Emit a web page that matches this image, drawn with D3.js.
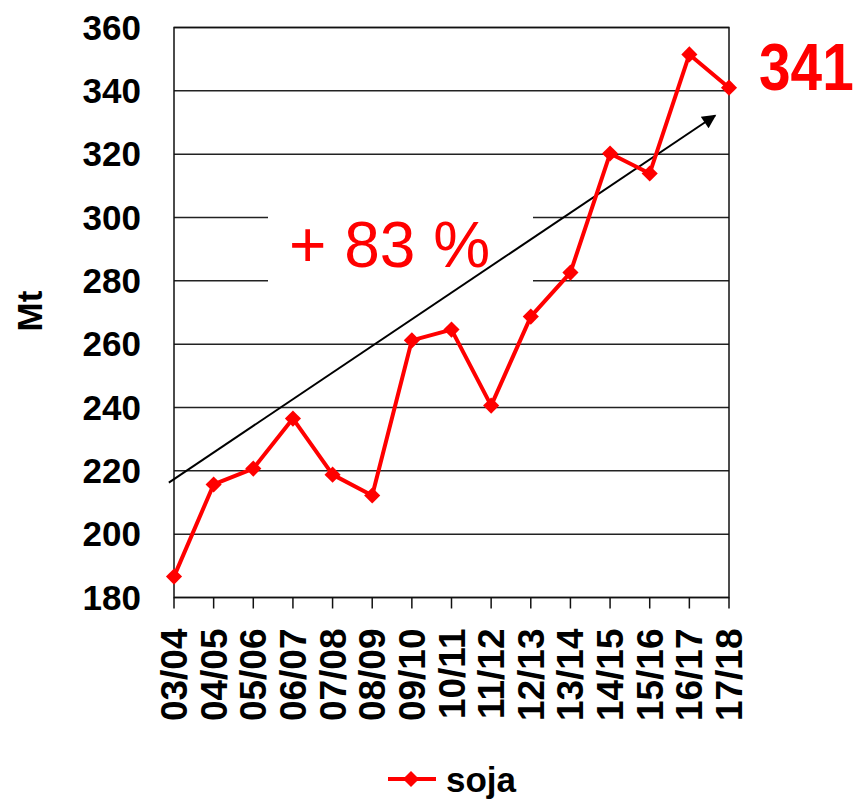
<!DOCTYPE html>
<html>
<head>
<meta charset="utf-8">
<script src="https://cdn.jsdelivr.net/npm/d3@7"></script>
<style>
	body{margin:0;background:#fff;}
	svg{display:block;font-family:"Liberation Sans",Arial,sans-serif;}
</style>
</head>
<body>
<svg id="chart" width="859" height="799"></svg>
<script>
const seasons = ['03/04','04/05','05/06','06/07','07/08','08/09','09/10','10/11','11/12','12/13','13/14','14/15','15/16','16/17','17/18'];
const soja = [186.6,215.7,220.7,236.5,218.8,212.2,261.2,264.6,240.6,268.7,282.6,320.2,313.9,351.5,341];
const yTicks = [180,200,220,240,260,280,300,320,340,360];
// trend arrow, in season index / Mt
const trendFrom = [-0.13,216.3];
const trendTo = [13.65,332.2];
const growthLabel = '+ 83 %';
const lastLabel = '341';

const svg = d3.select('#chart');
const plotL = 174, plotR = 729, plotT = 27.5, plotB = 597.5;

const x = d3.scalePoint().domain(seasons).range([plotL,plotR]);
const xi = d3.scaleLinear().domain([0,seasons.length-1]).range([plotL,plotR]);
const y = d3.scaleLinear().domain([180,360]).range([plotB,plotT]);

// gridlines
svg.append('g')
	.selectAll('line')
	.data(yTicks)
	.join('line')
		.attr('x1',plotL).attr('x2',plotR)
		.attr('y1',d=>y(d)).attr('y2',d=>y(d))
		.attr('stroke','#222').attr('stroke-width',1.5);

// frame
svg.append('rect')
	.attr('x',plotL).attr('y',plotT)
	.attr('width',plotR-plotL).attr('height',plotB-plotT)
	.attr('fill','none').attr('stroke','#111').attr('stroke-width',1.5);

// y axis labels
svg.append('g')
	.selectAll('text')
	.data(yTicks)
	.join('text')
		.attr('x',plotL-33)
		.attr('y',d=>y(d)+12)
		.attr('text-anchor','end')
		.attr('font-size',35)
		.attr('font-weight','bold')
		.text(d=>d);

// x axis ticks + labels
const xAxis = svg.append('g');
xAxis.selectAll('line')
	.data(seasons)
	.join('line')
		.attr('x1',d=>x(d)).attr('x2',d=>x(d))
		.attr('y1',plotB).attr('y2',plotB+11)
		.attr('stroke','#111').attr('stroke-width',1.5);
xAxis.selectAll('text')
	.data(seasons)
	.join('text')
		.attr('transform',d=>'translate('+(x(d)+13)+','+(plotB+31)+') rotate(-90)')
		.attr('text-anchor','end')
		.attr('font-size',37)
		.attr('font-weight','bold')
		.text(d=>d);

// y title
svg.append('text')
	.attr('transform','translate(42,311) rotate(-90)')
	.attr('text-anchor','middle')
	.attr('font-size',35)
	.attr('font-weight','bold')
	.text('Mt');

// white box behind the growth label
svg.append('rect')
	.attr('x',268).attr('y',190)
	.attr('width',265).attr('height',120)
	.attr('fill','#fff');
svg.append('text')
	.attr('x',289)
	.attr('y',267)
	.attr('font-size',64)
	.attr('fill','#ff0000')
	.text(growthLabel);

// trend arrow
svg.append('defs').append('marker')
	.attr('id','arrow')
	.attr('viewBox','0 0 10 10')
	.attr('refX',9).attr('refY',5)
	.attr('markerWidth',18).attr('markerHeight',14)
	.attr('markerUnits','userSpaceOnUse')
	.attr('orient','auto')
	.append('path')
		.attr('d','M0,0 L10,5 L0,10 z')
		.attr('fill','#000');
svg.append('line')
	.attr('x1',xi(trendFrom[0])).attr('y1',y(trendFrom[1]))
	.attr('x2',xi(trendTo[0])).attr('y2',y(trendTo[1]))
	.attr('stroke','#000').attr('stroke-width',2)
	.attr('marker-end','url(#arrow)');

// series
const line = d3.line()
	.x((d,i)=>x(seasons[i]))
	.y(d=>y(d));
svg.append('path')
	.datum(soja)
	.attr('d',line)
	.attr('fill','none')
	.attr('stroke','#ff0000')
	.attr('stroke-width',4)
	.attr('stroke-linejoin','round');
const diamond = d3.symbol().type(d3.symbolSquare).size(130);
svg.append('g')
	.selectAll('path')
	.data(soja)
	.join('path')
		.attr('d',diamond)
		.attr('transform',(d,i)=>'translate('+x(seasons[i])+','+y(d)+') rotate(45)')
		.attr('fill','#ff0000');

// last value label
svg.append('text')
	.attr('transform','translate(759,90) scale(0.86,1)')
	.attr('font-size',66)
	.attr('font-weight','bold')
	.attr('fill','#ff0000')
	.text(lastLabel);

// legend
const lg = svg.append('g').attr('transform','translate(388,779)');
lg.append('line')
	.attr('x1',0).attr('x2',48)
	.attr('stroke','#ff0000').attr('stroke-width',4);
lg.append('path')
	.attr('d',diamond)
	.attr('transform','translate(23,0) rotate(45)')
	.attr('fill','#ff0000');
lg.append('text')
	.attr('x',58).attr('y',13)
	.attr('font-size',35)
	.attr('font-weight','bold')
	.text('soja');
</script>
</body>
</html>
